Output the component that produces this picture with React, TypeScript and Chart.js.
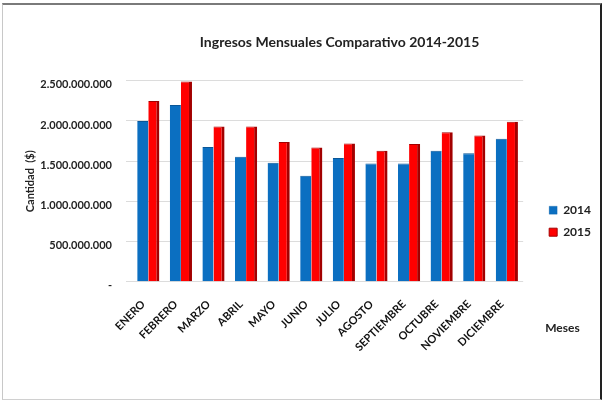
import React, { useEffect, useRef } from 'react';
import { Chart, registerables } from 'chart.js';

Chart.register(...registerables);

const months = ['ENERO', 'FEBRERO', 'MARZO', 'ABRIL', 'MAYO', 'JUNIO', 'JULIO', 'AGOSTO', 'SEPTIEMBRE', 'OCTUBRE', 'NOVIEMBRE', 'DICIEMBRE'];
const ingresos2014 = [2000000000, 2200000000, 1675000000, 1555000000, 1480000000, 1320000000, 1540000000, 1470000000, 1470000000, 1630000000, 1600000000, 1780000000];
const ingresos2015 = [2250000000, 2490000000, 1930000000, 1930000000, 1740000000, 1670000000, 1720000000, 1630000000, 1715000000, 1860000000, 1820000000, 1990000000];
const yMin = 0;
const yMax = 2500000000;
const yStep = 500000000;

const FONT = 'Lato, "Open Sans", "DejaVu Sans", sans-serif';

function fmt(v: number): string {
  if (v === 0) return '-';
  return Math.round(v).toString().replace(/\B(?=(\d{3})+(?!\d))/g, '.');
}

const mesesPlugin = {
  id: 'mesesLabel',
  afterLayout(chart: any) {
    const t = chart.titleBlock;
    if (t) {
      t.left += 24;
      t.right += 0;
    }
  },
  afterDraw(chart: any) {
    const ctx = chart.ctx;
    const area = chart.chartArea;
    ctx.save();
    ctx.font = `bold 12px ${FONT}`;
    ctx.fillStyle = '#222';
    ctx.textAlign = 'left';
    ctx.textBaseline = 'middle';
    ctx.fillText('Meses', area.right + 22, area.bottom + 46);
    ctx.restore();
  },
};

export default function App() {
  const canvasRef = useRef<HTMLCanvasElement | null>(null);

  useEffect(() => {
    document.body.style.margin = '0';
    const canvas = canvasRef.current;
    if (!canvas) return;
    const chart = new Chart(canvas, {
      type: 'bar',
      data: {
        labels: months,
        datasets: [
          {
            label: '2014',
            data: ingresos2014,
            backgroundColor: '#0b6fc1',
            borderColor: '#0a5697',
            borderWidth: { top: 1, right: 0, bottom: 0, left: 0 },
            borderSkipped: 'start',
            categoryPercentage: 0.68,
            barPercentage: 1.0,
          },
          {
            label: '2015',
            data: ingresos2015,
            backgroundColor: '#ff0000',
            borderColor: '#a30000',
            borderWidth: { top: 1, right: 3, bottom: 0, left: 0 },
            borderSkipped: 'start',
            categoryPercentage: 0.68,
            barPercentage: 1.0,
          },
        ],
      },
      options: {
        responsive: false,
        animation: false,
        maintainAspectRatio: false,
        layout: { padding: { left: 22, right: 4, top: 6, bottom: 43 } },
        plugins: {
          title: {
            display: true,
            text: 'Ingresos Mensuales Comparativo 2014-2015',
            fullSize: false,
            color: '#222',
            font: { family: FONT, size: 14, weight: 'bold' },
            padding: { top: 28, bottom: 30 },
          },
          legend: {
            position: 'right',
            align: 'center',
            title: { display: true, text: ' ', padding: { top: 60, bottom: 0 } },
            labels: {
              boxWidth: 8,
              boxHeight: 8,
              padding: 10,
              color: '#222',
              font: { family: FONT, size: 12, weight: 'bold' },
            },
          },
          tooltip: { enabled: false },
        },
        scales: {
          x: {
            grid: { display: false },
            border: { display: false },
            ticks: {
              color: '#111',
              maxRotation: 45,
              minRotation: 45,
              autoSkip: false,
              padding: 8,
              labelOffset: -5,
              font: { family: FONT, size: 11, weight: 'bold' },
            },
          },
          y: {
            min: yMin,
            max: yMax,
            border: { display: false },
            grid: { color: '#dcdcdc', lineWidth: 1, drawTicks: true, tickLength: 6 },
            title: {
              display: true,
              text: 'Cantidad  ($)',
              color: '#222',
              font: { family: FONT, size: 11, weight: 'bold' },
              padding: { top: 2, bottom: 0 },
            },
            ticks: {
              stepSize: yStep,
              color: '#222',
              padding: 14,
              labelOffset: 4,
              font: { family: FONT, size: 11, weight: 'bold' },
              callback: (v: any) => fmt(Number(v)),
            },
            afterFit: (scale: any) => {
              scale.width = 110;
            },
          },
          ySpacer: {
            position: 'right',
            min: yMin,
            max: yMax,
            display: true,
            grid: { display: false, drawTicks: false },
            border: { display: false },
            ticks: { display: false },
            afterFit: (scale: any) => {
              scale.width = 16;
            },
          },
        },
      },
      plugins: [mesesPlugin],
    });
    return () => chart.destroy();
  }, []);

  return (
    <div style={{ position: 'relative', width: 605, height: 405, background: '#fff', overflow: 'hidden' }}>
      <canvas ref={canvasRef} width={605} height={405} style={{ position: 'absolute', left: 0, top: 0, width: 605, height: 405 }} />
      <div
        style={{
          position: 'absolute',
          left: 2,
          top: 3,
          width: 597,
          height: 394,
          borderTop: '2px solid #7a7a7a',
          borderLeft: '1px solid #c8c8c8',
          borderBottom: '1px solid #d0d0d0',
          borderRight: '2px solid #222',
          pointerEvents: 'none',
        }}
      />
    </div>
  );
}
